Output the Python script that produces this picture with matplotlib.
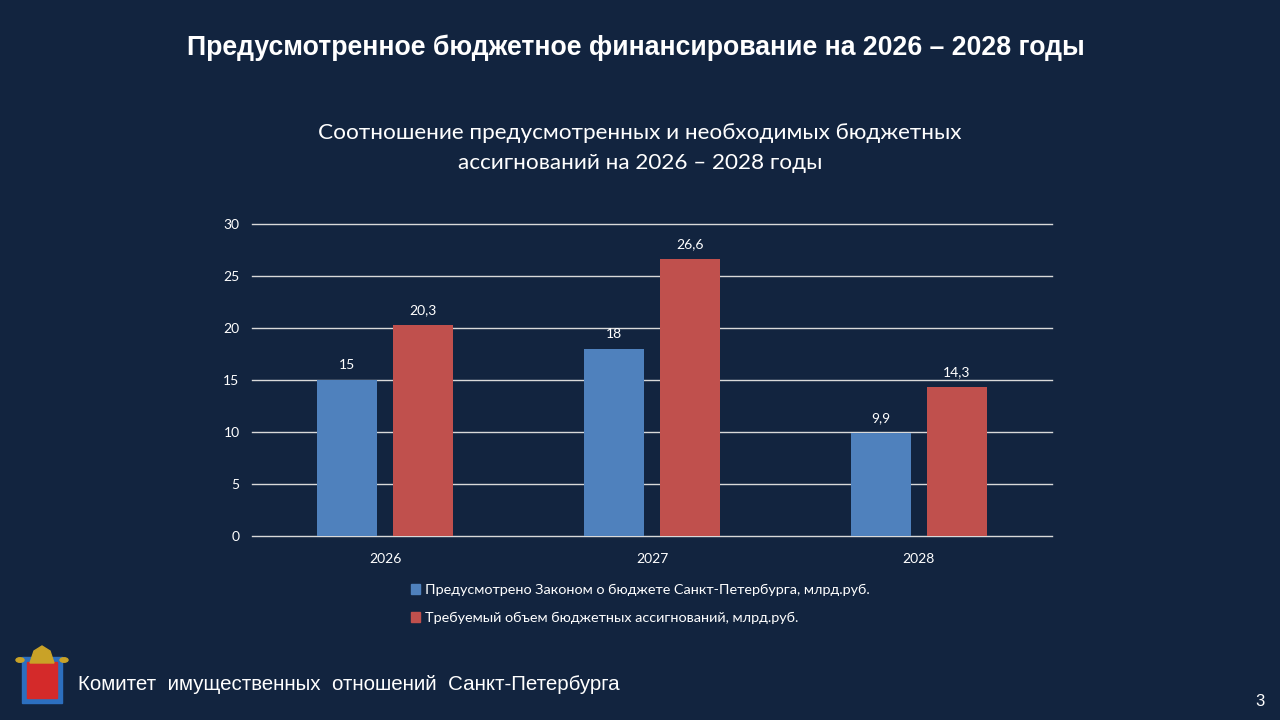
import matplotlib.pyplot as plt
from matplotlib.patches import Rectangle, Polygon, Circle
import numpy as np

years = ["2026", "2027", "2028"]
planned = [15, 18, 9.9]
required = [20.3, 26.6, 14.3]
planned_labels = ["15", "18", "9,9"]
required_labels = ["20,3", "26,6", "14,3"]
series_names = [
    "Предусмотрено Законом о бюджете Санкт-Петербурга, млрд.руб.",
    "Требуемый объем бюджетных ассигнований, млрд.руб.",
]
y_ticks = [0, 5, 10, 15, 20, 25, 30]

BG = "#12243f"
BLUE = "#4f81bd"
RED = "#c0504d"

fig = plt.figure(figsize=(12.8, 7.2), dpi=100, facecolor=BG)
ax = fig.add_axes([252 / 1280, 1 - 536 / 720, 800 / 1280, 312 / 720])
ax.set_facecolor(BG)

x = np.arange(len(years))
w = 0.225
off = 0.1425
b1 = ax.bar(x - off, planned, w, color=BLUE, zorder=3)
b2 = ax.bar(x + off, required, w, color=RED, zorder=3)

for bars, labels in ((b1, planned_labels), (b2, required_labels)):
    for bar, lab in zip(bars, labels):
        ax.annotate(lab, (bar.get_x() + bar.get_width() / 2, bar.get_height()),
                    xytext=(0, 6.5), textcoords="offset points", ha="center",
                    va="bottom", color="white", fontsize=10, family="Lato")

ax.set_xlim(-0.5, 2.5)
ax.set_ylim(0, 30)
ax.set_yticks(y_ticks)
ax.set_xticks(x)
ax.set_xticklabels(years)
for yv in y_ticks:
    ax.axhline(yv, color="#d9d9d9", lw=1, zorder=0, clip_on=False)
for s in ax.spines.values():
    s.set_visible(False)
ax.tick_params(length=0, colors="white", labelsize=10, pad=9)
ax.tick_params(axis="x", pad=12)
for t in ax.get_xticklabels() + ax.get_yticklabels():
    t.set_family("Lato")

fig.text(636 / 1280, 1 - 48 / 720,
         "Предусмотренное бюджетное финансирование на 2026 – 2028 годы",
         ha="center", va="center", color="white", fontsize=19.2,
         fontweight="bold", family="Liberation Sans")
fig.text(640 / 1280, 1 - 148 / 720,
         "Соотношение предусмотренных и необходимых бюджетных\nассигнований на 2026 – 2028 годы",
         ha="center", va="center", color="white", fontsize=16.2,
         family="Lato", linespacing=1.68)

handles = [Rectangle((0, 0), 1, 1, color=BLUE), Rectangle((0, 0), 1, 1, color=RED)]
leg = fig.legend(handles, series_names, loc="upper left",
                 bbox_to_anchor=(398 / 1280, 1 - 571 / 720), frameon=False,
                 handlelength=0.6, handleheight=0.6, handletextpad=0.35,
                 labelspacing=1.1, prop={"family": "Lato", "size": 10.4})
for t in leg.get_texts():
    t.set_color("white")

# footer emblem (simplified)
fig.patches.append(Rectangle((22 / 1280, 1 - 703 / 720), 40 / 1280, 46 / 720,
                             transform=fig.transFigure, facecolor="#2c6fbf",
                             edgecolor="#2c6fbf"))
fig.patches.append(Rectangle((27 / 1280, 1 - 698 / 720), 30 / 1280, 36 / 720,
                             transform=fig.transFigure, facecolor="#d42a2a",
                             edgecolor="#d42a2a"))
fig.patches.append(Polygon([(30 / 1280, 1 - 663 / 720), (54 / 1280, 1 - 663 / 720),
                            (50 / 1280, 1 - 651 / 720), (42 / 1280, 1 - 646 / 720),
                            (34 / 1280, 1 - 651 / 720)],
                           transform=fig.transFigure, facecolor="#c9a227",
                           edgecolor="#c9a227"))
fig.patches.append(Circle((20 / 1280, 1 - 660 / 720), 4 / 1280,
                          transform=fig.transFigure, color="#c9a227"))
fig.patches.append(Circle((64 / 1280, 1 - 660 / 720), 4 / 1280,
                          transform=fig.transFigure, color="#c9a227"))

fig.text(78 / 1280, 1 - 684 / 720,
         "Комитет  имущественных  отношений  Санкт-Петербурга",
         ha="left", va="center", color="white", fontsize=14.75,
         family="Liberation Sans")
fig.text(1260 / 1280, 1 - 701 / 720, "3", ha="center", va="center",
         color="white", fontsize=12, family="Liberation Sans")

fig.savefig("out.png", dpi=100, facecolor=BG)
